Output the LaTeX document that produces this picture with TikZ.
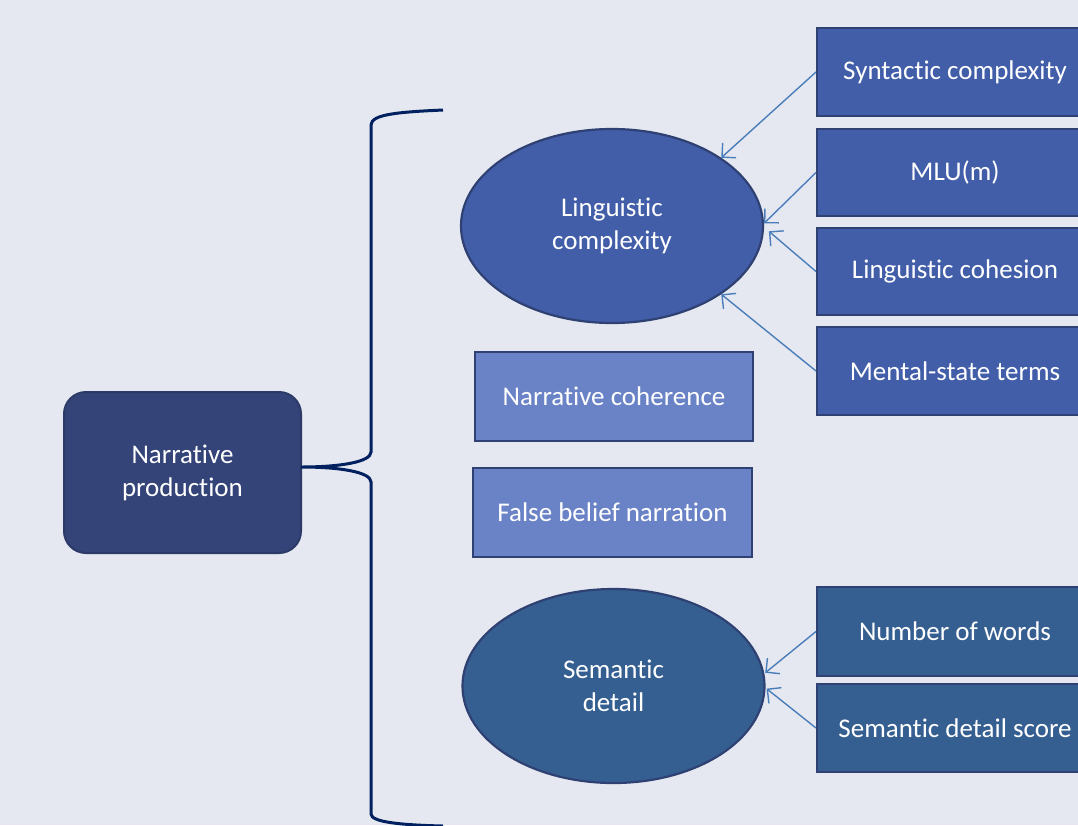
\documentclass[tikz,border=0pt]{standalone}
\usepackage{fontspec}
\setmainfont{Carlito}[Ligatures={NoCommon}]
\usetikzlibrary{arrows.meta,shapes.geometric}
\definecolor{bgc}{HTML}{E5E8F0}
\definecolor{npfill}{HTML}{344479}
\definecolor{lcfill}{HTML}{425EA9}
\definecolor{sdfill}{HTML}{365F91}
\definecolor{ltfill}{HTML}{6A82C6}
\definecolor{edgec}{HTML}{2E4172}
\definecolor{bracec}{HTML}{002060}
\definecolor{arrc}{HTML}{4A7EBB}
\tikzset{
  x=1pt,y=-1pt,
  every node/.style={font=\fontsize{27}{33}\selectfont, text=white, align=center},
  rbox/.style={draw=edgec, line width=2pt, rectangle, minimum width=#1, inner sep=0pt},
  ell/.style={draw=edgec, line width=2.2pt, ellipse, minimum width=302pt, minimum height=194pt, inner sep=0pt},
  conn/.style={draw=arrc, line width=1.4pt, -{Straight Barb[length=10pt,width=20pt,line width=1.4pt]}},
  bracestyle/.style={draw=bracec, line width=3pt}
}
\begin{document}
\begin{tikzpicture}
\useasboundingbox (0,0) rectangle (1078,825);
\fill[bgc] (0,0) rectangle (1078,825);
% main node
\node[rbox=237pt, minimum height=161pt, fill=npfill, draw=npfill!85!black, rounded corners=22pt] (np) at (182.5,472.5) {Narrative\\production};
\coordinate (tip) at (301,467);
% brace
\draw[bracestyle] (443,110) .. controls (400,112) and (371,114) .. (371,125) -- (371,452)
  .. controls (371,462) and (340,467) .. (tip)
  .. controls (340,467) and (371,472) .. (371,482) -- (371,814)
  .. controls (371,822) and (400,825) .. (443,826);
% ellipses
\node[ell, fill=lcfill] (lc) at (612,226) {Linguistic\\complexity};
\node[ell, fill=sdfill] (sd) at (613.5,686) {Semantic\\detail};
% middle boxes
\node[rbox=278pt, minimum height=89pt, fill=ltfill] (nc) at (614,396.5) {Narrative coherence};
\node[rbox=279pt, minimum height=89pt, fill=ltfill] (fb) at (612.5,512.5) {False belief narration};
% right boxes
\node[rbox=276pt, minimum height=88pt, fill=lcfill] (syn) at (955,72) {Syntactic complexity};
\node[rbox=276pt, minimum height=87pt, fill=lcfill] (mlu) at (955,172.5) {MLU(m)};
\node[rbox=276pt, minimum height=87pt, fill=lcfill] (coh) at (955,271.5) {Linguistic cohesion};
\node[rbox=276pt, minimum height=88pt, fill=lcfill] (men) at (955,371) {Mental-state terms};
\node[rbox=276pt, minimum height=89pt, fill=sdfill] (now) at (955,631.5) {Number of words};
\node[rbox=276pt, minimum height=88pt, fill=sdfill] (sds) at (955,728) {Semantic detail score};
% connectors
\draw[conn] (syn.west) -- (lc.32.6);
\draw[conn] (mlu.west) -- (lc.1);
\draw[conn] (coh.west) -- ([xshift=5pt]lc.-2);
\draw[conn] (men.west) -- (lc.-32);
\draw[conn] (now.west) -- ([xshift=1pt]sd.5);
\draw[conn] (sds.west) -- ([xshift=1pt]sd.-1);
\end{tikzpicture}
\end{document}
